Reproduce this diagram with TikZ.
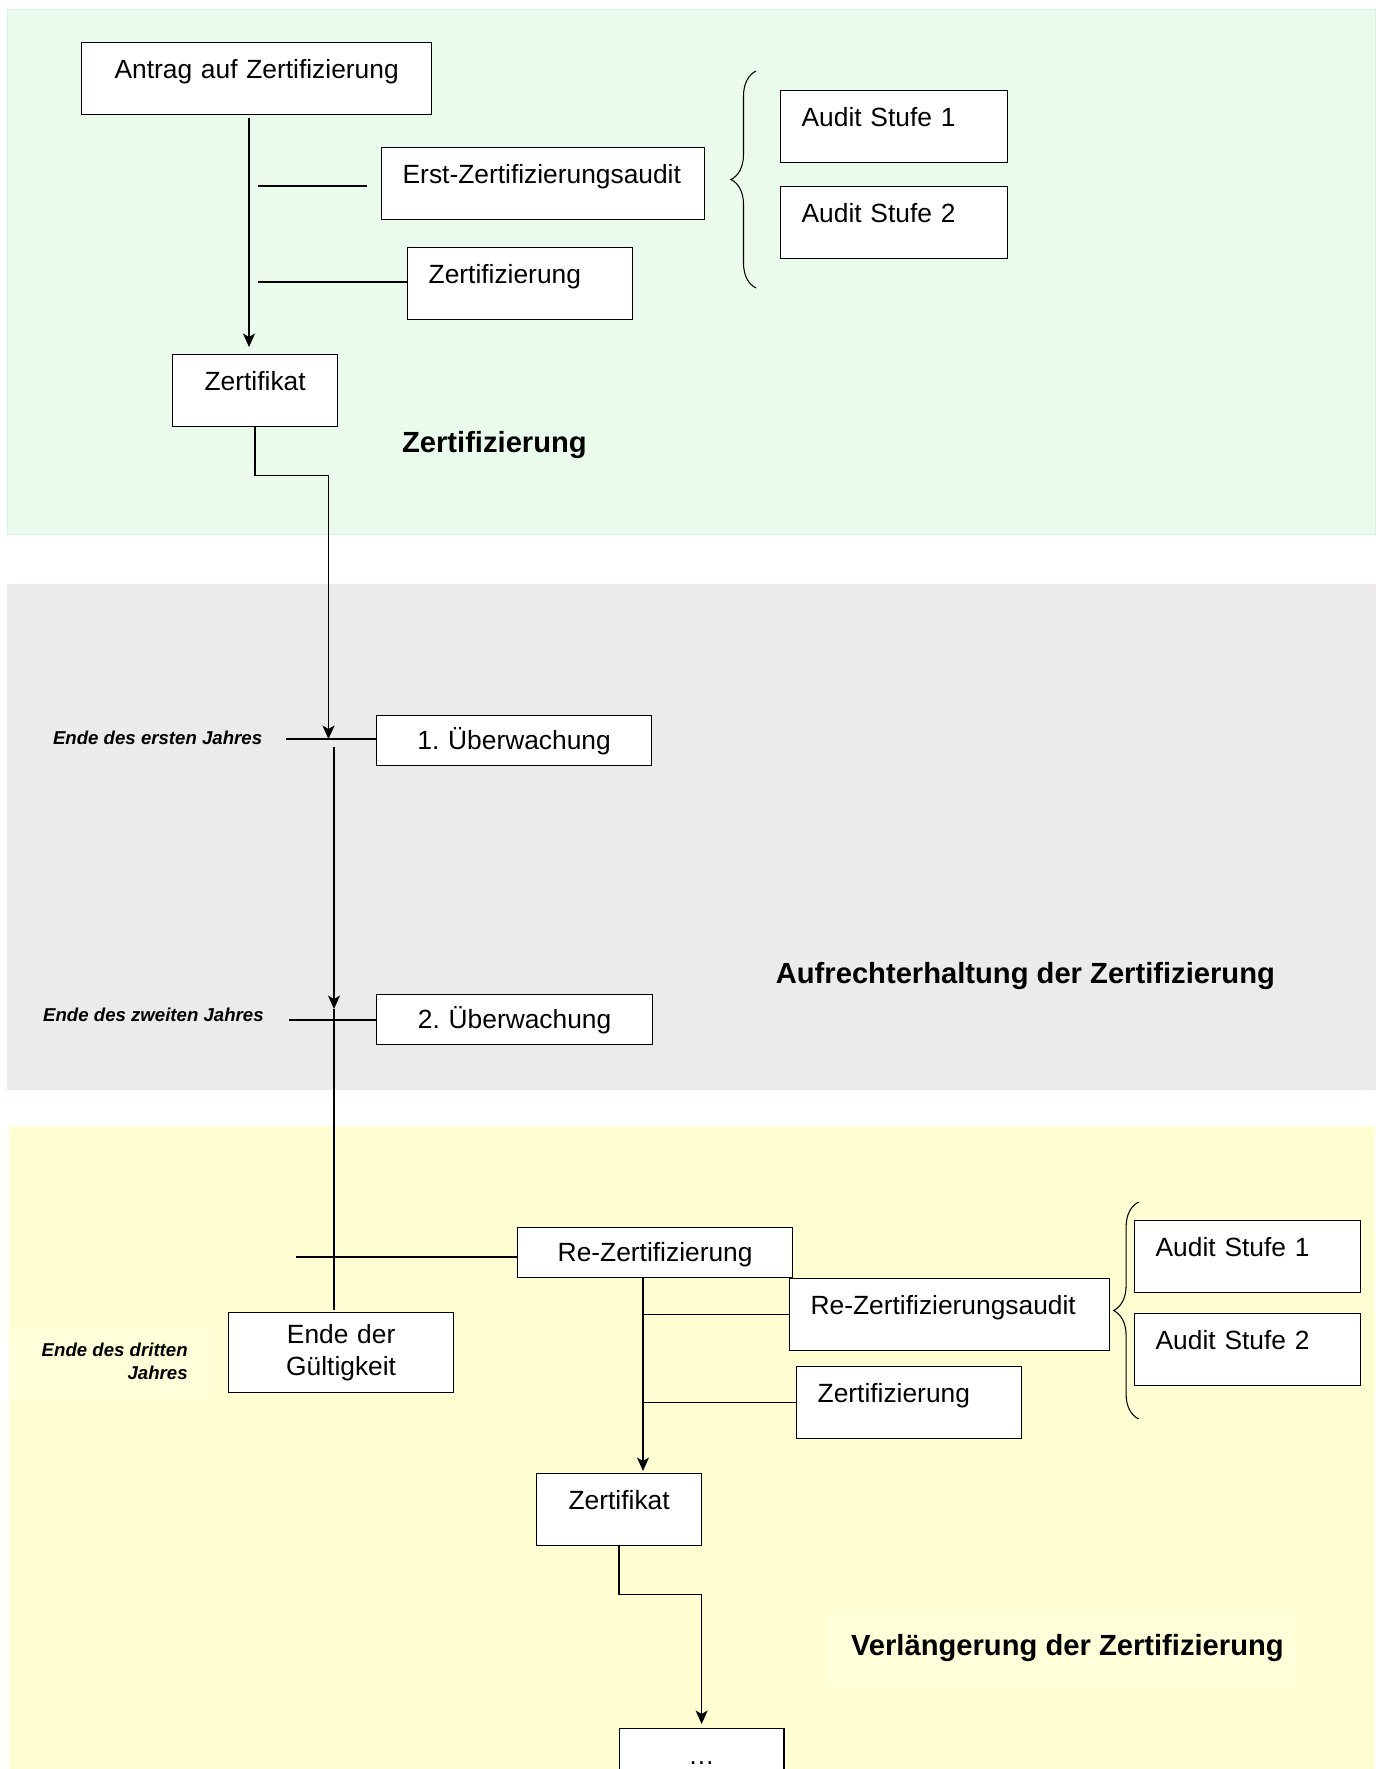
\documentclass[tikz,border=0pt]{standalone}
\usepackage{fontspec}
\setmainfont{Liberation Sans}
\frenchspacing
\usetikzlibrary{arrows.meta,decorations.pathreplacing}
\definecolor{gruen}{RGB}{234,251,238}
\definecolor{gruenrand}{RGB}{214,244,221}
\definecolor{grau}{RGB}{235,235,236}
\definecolor{graurand}{RGB}{247,226,232}
\definecolor{gelb}{RGB}{255,254,210}
\definecolor{gelbhell}{RGB}{255,255,218}
\begin{document}
\begin{tikzpicture}[x=0.02cm, y=-0.02cm,
  rahmen/.style={draw, fill=white, line width=0.75pt, anchor=north west, inner xsep=0.42cm, inner ysep=0pt, font=\fontsize{15}{17.8}\selectfont},
  kasten/.style={rahmen, text height=0.72cm, text depth=0.72cm, align=left},
  flach/.style={rahmen, text height=13pt, text depth=3pt, minimum height=1cm, align=center},
  titel/.style={anchor=base west, inner sep=0pt, font=\fontsize{16.6}{20}\selectfont\bfseries},
  jahr/.style={inner sep=0pt, align=right, font=\fontsize{10.6}{12.6}\selectfont\bfseries\itshape},
  linie/.style={line width=0.8pt},
  pfeil/.style={linie, -{Stealth[length=0.27cm, width=0.24cm, inset=0.07cm]}},
  klammer/.style={line width=0.6pt, decorate, decoration={brace, amplitude=0.5cm}}]
\useasboundingbox (0,0) rectangle (1384,1769);
\clip (0,0) rectangle (1384,1769);
\fill[white] (0,0) rectangle (1384,1769);
\filldraw[fill=gruen, draw=gruenrand] (7,9) rectangle (1375,534); % Zertifizierung
\filldraw[fill=grau, draw=graurand] (7,584) rectangle (1375,1089); % Aufrechterhaltung
\fill[gelb] (9,1126) rectangle (1375,1780); % Verlaengerung
\fill[gelbhell] (9,1329) rectangle (210,1400);
\fill[gelbhell] (827,1613) rectangle (1297,1688);
%
\node[kasten, align=center, text width=6.16cm] (antrag) at (81,42) {Antrag auf Zertifizierung};
\node[kasten, text width=5.62cm] (erstaudit) at (381,147) {Erst-Zertifizierungsaudit};
\node[kasten, text width=3.66cm] (zert1) at (407,247) {Zertifizierung};
\node[kasten, text width=3.70cm] (stufe1a) at (780,90) {Audit Stufe 1};
\node[kasten, text width=3.70cm] (stufe2a) at (780,186) {Audit Stufe 2};
\node[kasten, align=center, text width=2.46cm] (zertifikat1) at (172,354) {Zertifikat};
\node[titel] (titel1) at (401.7,452.3) {Zertifizierung};
%
\node[flach, text width=4.66cm] (ueb1) at (376,715) {1. Überwachung};
\node[flach, text width=4.68cm] (ueb2) at (376,994) {2. Überwachung};
\node[jahr, anchor=base east] (jahr1) at (262.5,744) {Ende des ersten Jahres};
\node[jahr, anchor=base east] (jahr2) at (264,1021) {Ende des zweiten Jahres};
\node[titel] (titel2) at (775.5,983.7) {Aufrechterhaltung der Zertifizierung};
%
\node[flach, text width=4.66cm] (rezert) at (517,1227) {Re-Zertifizierung};
\node[rahmen, align=center, text width=3.66cm, minimum height=1.6cm] (ende) at (228,1312) {Ende der\\Gültigkeit};
\node[jahr, anchor=north east] (jahr3) at (188,1343) {Ende des dritten\\Jahres};
\node[kasten, text width=5.56cm] (reaudit) at (789,1278) {Re-Zertifizierungsaudit};
\node[kasten, text width=3.66cm] (zert2) at (796,1366) {Zertifizierung};
\node[kasten, text width=3.68cm] (stufe1b) at (1134,1220) {Audit Stufe 1};
\node[kasten, text width=3.68cm] (stufe2b) at (1134,1312.5) {Audit Stufe 2};
\node[kasten, align=center, text width=2.46cm] (zertifikat2) at (536,1473) {Zertifikat};
\node[kasten, align=center, text width=2.46cm] (weiter) at (618.5,1728) {…};
\node[titel] (titel3) at (850.7,1655) {Verlängerung der Zertifizierung};
%
\coordinate (s1) at (249,118);
\draw[pfeil, shorten >=0.14cm] (s1) -- (s1 |- zertifikat1.north);
\coordinate (a1) at (258,186);
\draw[linie, shorten >=0.28cm] (a1) -- (a1 -| erstaudit.west);
\coordinate (a2) at (258,282);
\draw[linie] (a2) -- (a2 -| zert1.west);
\draw[klammer] (756,288) -- (756,71); % Audit Stufen
%
\coordinate (j1) at (328.5,739);
\draw[pfeil] (zertifikat1.south) -- ++(0,48) -| (j1);
\coordinate (t1) at (286,739);
\draw[linie] (t1) -- (t1 -| ueb1.west);
\coordinate (s2) at (334,747);
\coordinate (j2) at (334,1009);
\draw[pfeil] (s2) -- (j2);
\coordinate (t2) at (289,1020);
\draw[linie] (t2) -- (t2 -| ueb2.west);
\draw[linie, shorten >=0.05cm] (j2) -- (j2 |- ende.north);
%
\coordinate (t3) at (296,1257);
\draw[linie] (t3) -- (t3 -| rezert.west);
\coordinate (s4) at (643,1277);
\draw[pfeil, shorten >=0.04cm] (s4) -- (s4 |- zertifikat2.north);
\draw[linie] (s4 |- reaudit.west) -- (reaudit.west);
\draw[linie] (s4 |- zert2.west) -- (zert2.west);
\draw[klammer] (1138.6,1419) -- (1138.6,1202); % Audit Stufen
\draw[pfeil, shorten >=0.08cm] (zertifikat2.south) -- ++(0,48) -| (weiter.north);
\end{tikzpicture}
\end{document}
